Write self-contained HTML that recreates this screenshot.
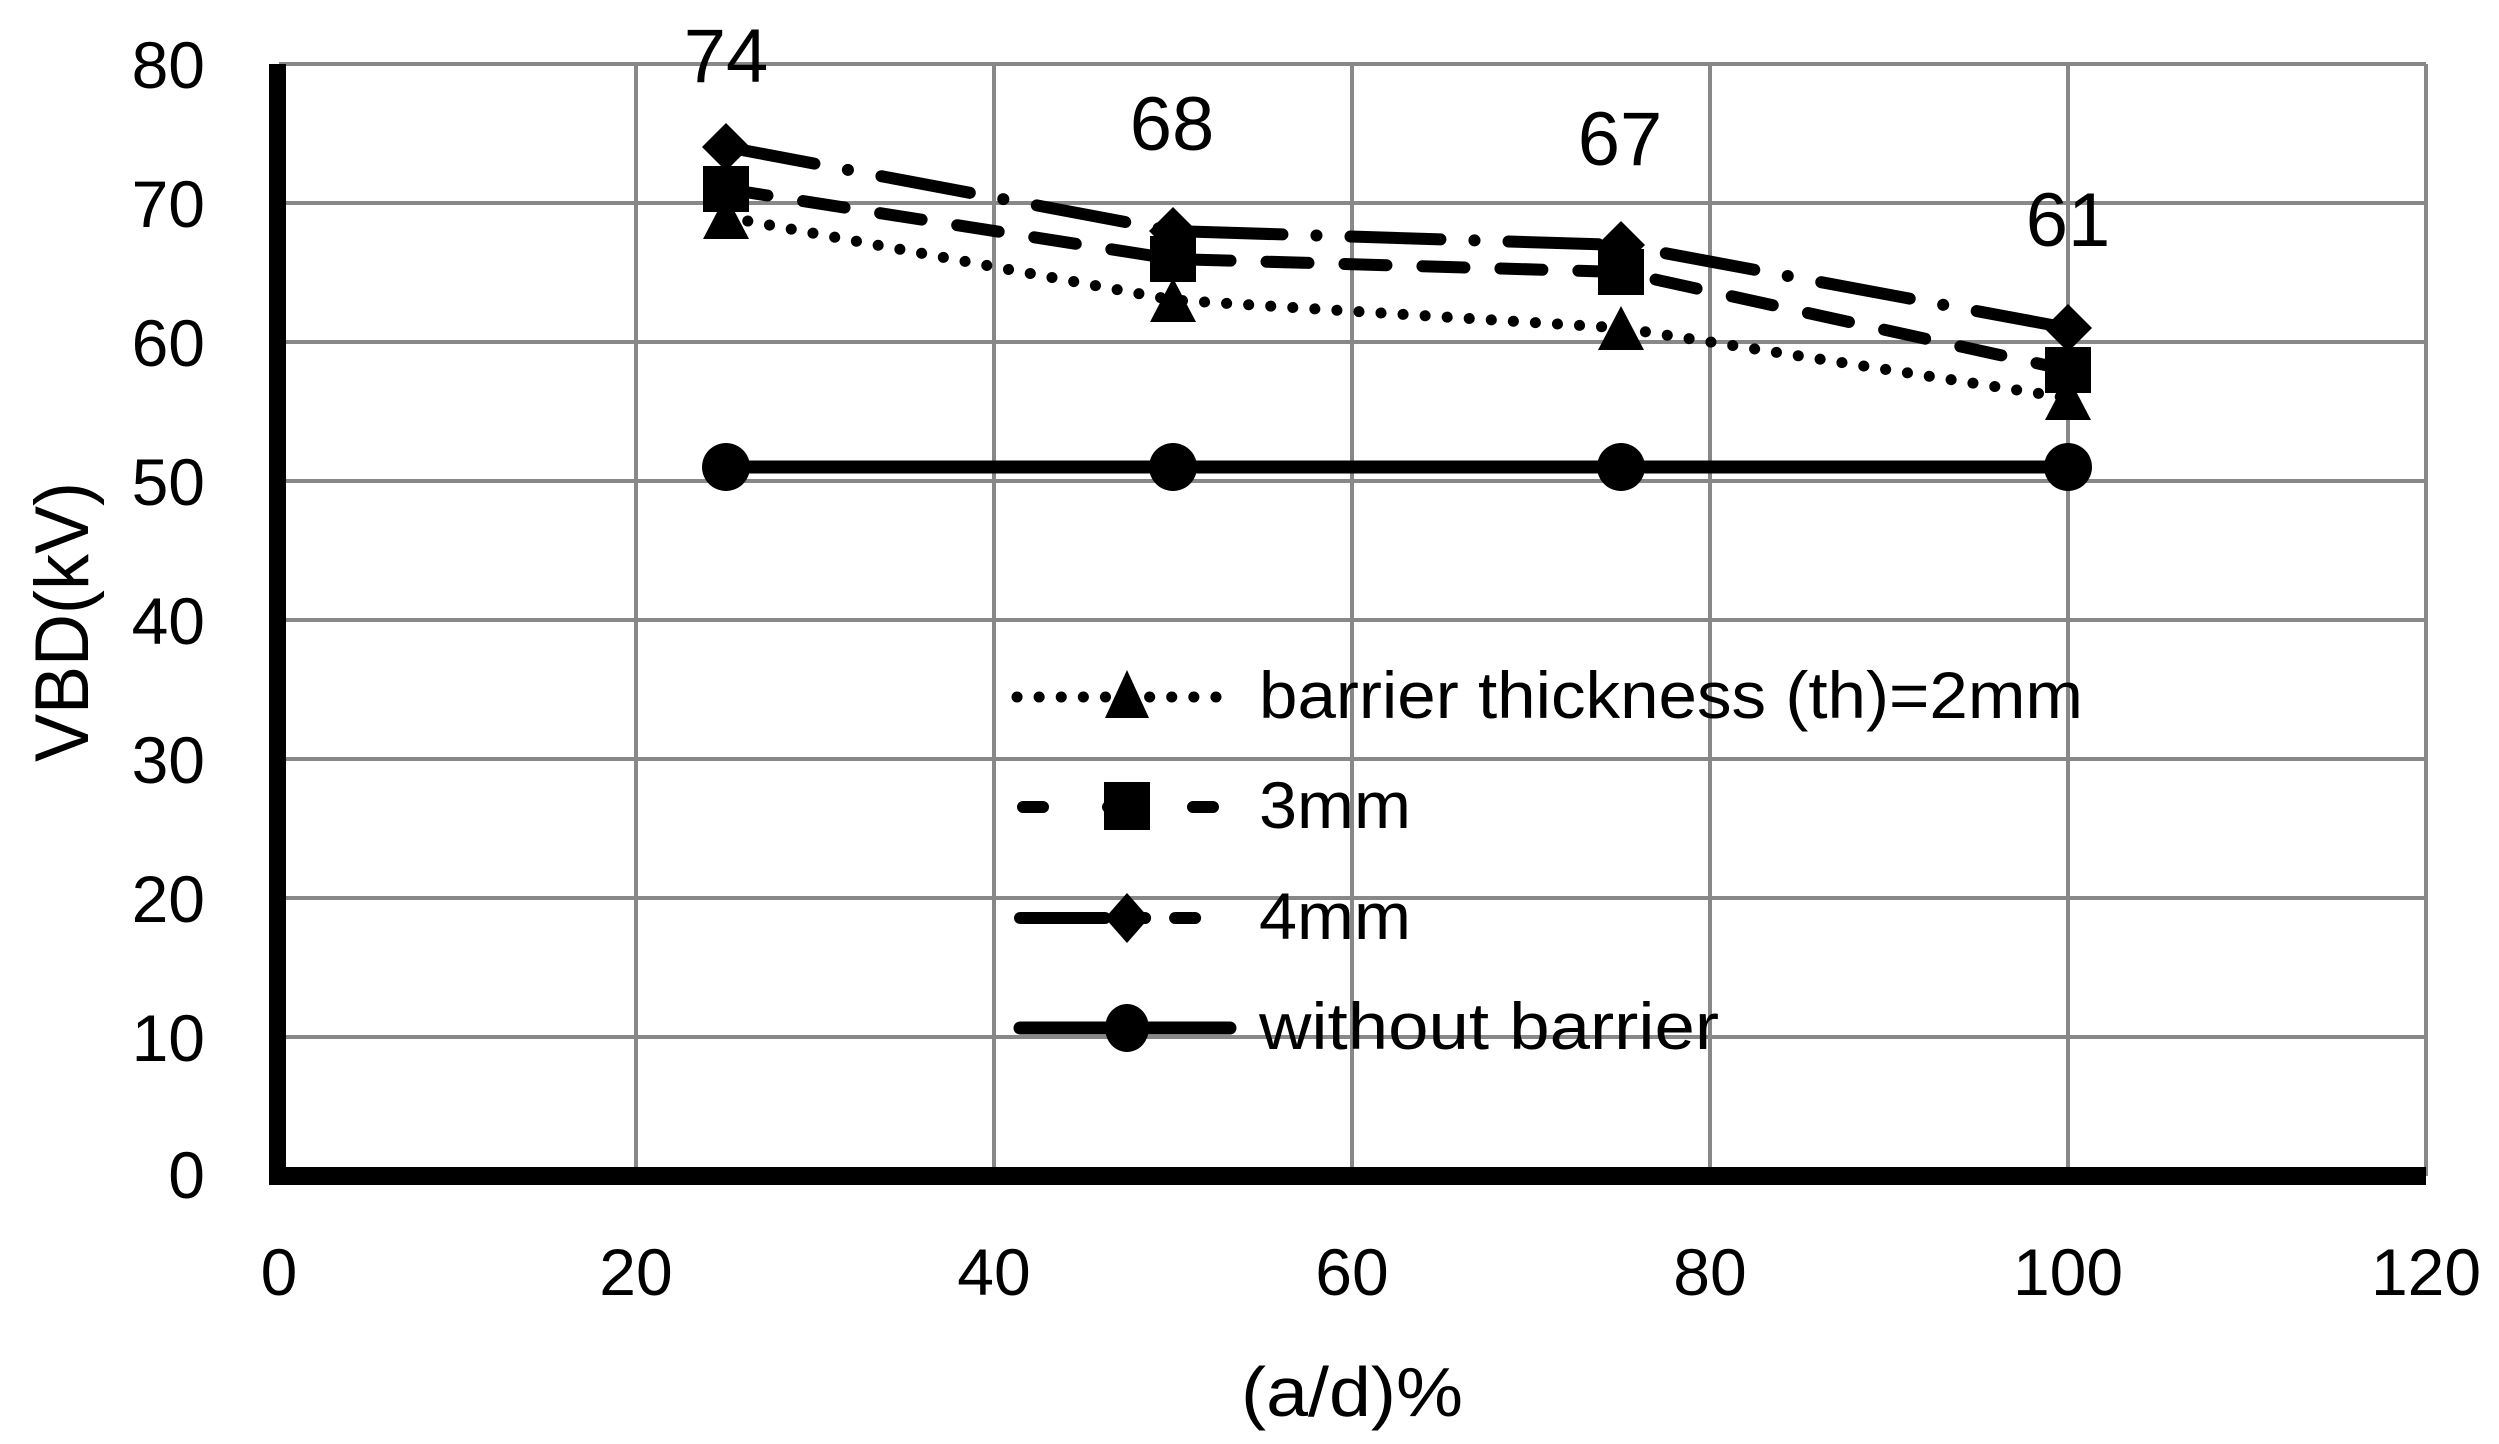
<!DOCTYPE html>
<html><head><meta charset="utf-8"><style>html,body{margin:0;padding:0;background:#fff}svg{display:block}</style></head>
<body>
<svg width="2499" height="1444" viewBox="0 0 2499 1444" xmlns="http://www.w3.org/2000/svg" font-family="Liberation Sans, sans-serif">
<rect width="2499" height="1444" fill="#fff"/>
<g stroke="#888" stroke-width="4">
<line x1="279" y1="64" x2="2426" y2="64"/>
<line x1="279" y1="203" x2="2426" y2="203"/>
<line x1="279" y1="342" x2="2426" y2="342"/>
<line x1="279" y1="481" x2="2426" y2="481"/>
<line x1="279" y1="620" x2="2426" y2="620"/>
<line x1="279" y1="759" x2="2426" y2="759"/>
<line x1="279" y1="898" x2="2426" y2="898"/>
<line x1="279" y1="1037" x2="2426" y2="1037"/>
<line x1="636" y1="64" x2="636" y2="1176"/>
<line x1="994" y1="64" x2="994" y2="1176"/>
<line x1="1352" y1="64" x2="1352" y2="1176"/>
<line x1="1710" y1="64" x2="1710" y2="1176"/>
<line x1="2068" y1="64" x2="2068" y2="1176"/>
<line x1="2426" y1="64" x2="2426" y2="1176"/>
</g>
<rect x="269" y="64" width="17" height="1121" fill="#000"/>
<rect x="275" y="1167" width="2151" height="18" fill="#000"/>
<g font-size="66" fill="#000" text-anchor="end">
<text x="205" y="88">80</text><text x="205" y="227">70</text><text x="205" y="366">60</text>
<text x="205" y="505">50</text><text x="205" y="644">40</text><text x="205" y="783">30</text>
<text x="205" y="922">20</text><text x="205" y="1061">10</text><text x="205" y="1198">0</text>
</g>
<g font-size="66" fill="#000" text-anchor="middle">
<text x="279" y="1295">0</text><text x="636" y="1295">20</text><text x="994" y="1295">40</text>
<text x="1352" y="1295">60</text><text x="1710" y="1295">80</text><text x="2068" y="1295">100</text><text x="2426" y="1295">120</text>
<text x="1352" y="1416" font-size="70" textLength="222" lengthAdjust="spacingAndGlyphs">(a/d)%</text>
</g>
<g font-size="76" fill="#000" text-anchor="middle">
<text x="726" y="82">74</text><text x="1172" y="150">68</text><text x="1620" y="165">67</text><text x="2068" y="246">61</text>
</g>
<text transform="translate(88,622) rotate(-90)" font-size="76" text-anchor="middle" textLength="280" lengthAdjust="spacingAndGlyphs">VBD(kV)</text>
<!-- series -->
<g fill="none" stroke="#000" stroke-width="12" stroke-linecap="round">
<polyline points="726,467 1173,467 1621,467 2068,467" stroke-width="13"/>
<polyline points="726,217 1173,300 1621,328 2068,398" stroke-width="11" stroke-dasharray="0.1,22"/>
<polyline points="726,189 1173,259 1621,272 2068,370" stroke-dasharray="42,36"/>
<polyline points="726,147 1173,231 1621,245 2068,328" stroke-dasharray="90,34,0.1,34"/>
</g>
<g fill="#000">
<ellipse cx="726" cy="467" rx="24" ry="24"/><ellipse cx="1173" cy="467" rx="24" ry="24"/><ellipse cx="1621" cy="467" rx="24" ry="24"/><ellipse cx="2068" cy="467" rx="24" ry="24"/>
<path d="M726,195 l23,44 h-46z M1173,278 l23,44 h-46z M1621,306 l23,44 h-46z M2068,376 l23,44 h-46z"/>
<path d="M703,166 h46 v46 h-46z M1150,236 h46 v46 h-46z M1598,249 h46 v46 h-46z M2045,347 h46 v46 h-46z"/>
<path d="M726,123 l24,24 -24,24 -24,-24z M1173,207 l24,24 -24,24 -24,-24z M1621,221 l24,24 -24,24 -24,-24z M2068,304 l24,24 -24,24 -24,-24z"/>
</g>
<!-- legend -->
<g fill="none" stroke="#000" stroke-width="12" stroke-linecap="round">
<line x1="1017" y1="697" x2="1232" y2="697" stroke-width="11" stroke-dasharray="0.1,22"/>
<line x1="1023" y1="807" x2="1225" y2="807" stroke-dasharray="20,65"/>
<line x1="1020" y1="918" x2="1225" y2="918" stroke-dasharray="85,40,0.1,30,20,200"/>
<line x1="1020" y1="1028" x2="1230" y2="1028" stroke-width="13"/>
</g>
<g fill="#000">
<path d="M1127,670 l22,48 h-44z"/>
<rect x="1104" y="782" width="46" height="48"/>
<path d="M1127,893 l22,25 -22,25 -22,-25z"/>
<ellipse cx="1127" cy="1028" rx="22" ry="24"/>
</g>
<g font-size="66" fill="#000">
<text x="1259" y="718" textLength="824" lengthAdjust="spacingAndGlyphs">barrier thickness (th)=2mm</text>
<text x="1259" y="828" textLength="152" lengthAdjust="spacingAndGlyphs">3mm</text>
<text x="1259" y="939" textLength="152" lengthAdjust="spacingAndGlyphs">4mm</text>
<text x="1259" y="1049" textLength="460" lengthAdjust="spacingAndGlyphs">without barrier</text>
</g>
</svg>
</body></html>
